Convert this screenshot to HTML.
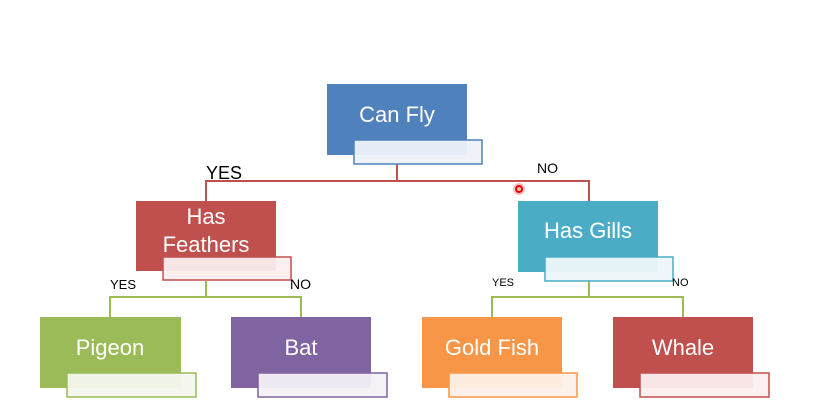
<!DOCTYPE html>
<html><head><meta charset="utf-8"><style>
html,body{margin:0;padding:0;background:#fff;}
svg{display:block}
text{font-family:"Liberation Sans","DejaVu Sans",sans-serif;}
.w{fill:#fff;font-size:22px;text-anchor:middle}
</style></head><body>
<svg width="816" height="414" viewBox="0 0 816 414" xmlns="http://www.w3.org/2000/svg">
<!-- connectors -->
<g fill="none" stroke-width="2">
<path d="M397 164 V181 M206 201 V181 H589 V201" stroke="#c0504d"/>
<path d="M206 281 V297 M110 317 V297 H301 V317" stroke="#9bbb59"/>
<path d="M589 281 V297 M492 317 V297 H683 V317" stroke="#9bbb59"/>
</g>
<!-- Can Fly -->
<rect x="327" y="84" width="140" height="71" fill="#4f81bd"/>
<text class="w" x="397" y="122">Can Fly</text>
<rect x="354" y="140" width="128" height="24" fill="#eef2f9" fill-opacity="0.95" stroke="#4f81bd" stroke-width="1.5"/>
<!-- Has Feathers -->
<rect x="136" y="201" width="140" height="70" fill="#c0504d"/>
<text class="w" x="206" y="224">Has</text>
<text class="w" x="206" y="252">Feathers</text>
<rect x="163" y="257" width="128" height="23" fill="#fbeeee" fill-opacity="0.95" stroke="#c0504d" stroke-width="1.5"/>
<!-- Has Gills -->
<rect x="518" y="201" width="140" height="71" fill="#4bacc6"/>
<text class="w" x="588" y="238">Has Gills</text>
<rect x="545" y="257" width="128" height="24" fill="#edf6f9" fill-opacity="0.95" stroke="#4bacc6" stroke-width="1.5"/>
<!-- Pigeon -->
<rect x="40" y="317" width="141" height="71" fill="#9bbb59"/>
<text class="w" x="110" y="355">Pigeon</text>
<rect x="67" y="373" width="129" height="24" fill="#f4f7ee" fill-opacity="0.95" stroke="#9bbb59" stroke-width="1.5"/>
<!-- Bat -->
<rect x="231" y="317" width="140" height="71" fill="#8064a2"/>
<text class="w" x="301" y="355">Bat</text>
<rect x="258" y="373" width="129" height="24" fill="#f3f0f7" fill-opacity="0.95" stroke="#8064a2" stroke-width="1.5"/>
<!-- Gold Fish -->
<rect x="422" y="317" width="140" height="71" fill="#f79646"/>
<text class="w" x="492" y="355">Gold Fish</text>
<rect x="449" y="373" width="128" height="24" fill="#fdf1ea" fill-opacity="0.95" stroke="#f79646" stroke-width="1.5"/>
<!-- Whale -->
<rect x="613" y="317" width="140" height="71" fill="#c0504d"/>
<text class="w" x="683" y="355">Whale</text>
<rect x="640" y="373" width="129" height="24" fill="#fbeeee" fill-opacity="0.95" stroke="#c0504d" stroke-width="1.5"/>
<!-- labels -->
<text x="206" y="179" font-size="18" fill="#000">YES</text>
<text x="537" y="173" font-size="14" fill="#000">NO</text>
<text x="110" y="289" font-size="13" fill="#000">YES</text>
<text x="290" y="289" font-size="14" fill="#000">NO</text>
<text x="492" y="286" font-size="11" fill="#000">YES</text>
<text x="672" y="286" font-size="11" fill="#000">NO</text>
<!-- red dot -->
<circle cx="519" cy="189" r="6" fill="#ff0000" fill-opacity="0.25"/>
<circle cx="519" cy="189" r="3" fill="none" stroke="#e00" stroke-width="2"/>
</svg>
</body></html>
